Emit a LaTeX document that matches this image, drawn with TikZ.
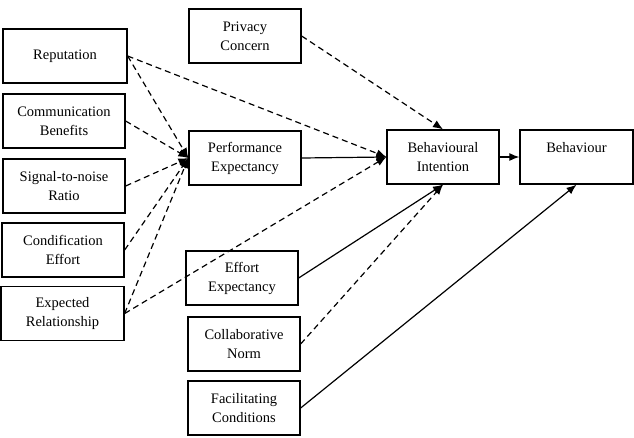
\documentclass[tikz,border=0pt]{standalone}
\usepackage{fontspec}
\setmainfont{Liberation Serif}
\usetikzlibrary{arrows.meta}
\begin{document}
\begin{tikzpicture}[x=1pt,y=-1pt,
  box/.style={draw,line width=1.3pt,minimum height=54pt,align=center,inner sep=0pt,font=\fontsize{14.5}{19}\selectfont},
  lbox/.style={box,minimum width=122pt},
  cbox/.style={box,minimum width=112pt},
  link/.style={-{Latex[length=10pt,width=8pt]},line width=1.2pt},
  dlink/.style={link,dash pattern=on 6pt off 4pt}]
\useasboundingbox (0,0) rectangle (634,437);
\node[lbox,minimum width=124pt] (rep) at (65,56) {Reputation};
\node[lbox] (comm) at (64,121) {Communication\\Benefits};
\node[lbox] (sig) at (64,186) {Signal-to-noise\\Ratio};
\node[lbox] (cond) at (63,250) {Condification\\Effort};
\node[lbox,minimum width=123pt] (expr) at (62.5,313.5) {Expected\\Relationship};
\node[cbox] (priv) at (245,36) {Privacy\\Concern};
\node[cbox] (perf) at (245,158) {Performance\\Expectancy};
\node[cbox] (eff) at (242,278) {Effort\\Expectancy};
\node[cbox] (norm) at (244,344) {Collaborative\\Norm};
\node[cbox] (facil) at (244,408) {Facilitating\\Conditions};
\node[cbox] (intent) at (443,157) {Behavioural\\Intention};
\node[cbox,minimum width=113pt] (behav) at (576.5,157) {Behaviour\\~};

\draw[dlink] (rep.east) -- (perf.west);
\draw[dlink] (comm.east) -- (perf.west);
\draw[dlink] (sig.east) -- (perf.west);
\draw[dlink] (cond.east) -- (perf.west);
\draw[dlink] (expr.east) -- (perf.west);
\draw[dlink] (rep.east) -- (intent.west);
\draw[dlink] (expr.east) -- (intent.west);
\draw[dlink] (priv.east) -- (intent.north);
\draw[link] (perf.east) -- (intent.west);
\draw[link] (intent.east) -- (behav.west);
\draw[link] (eff.east) -- (intent.south);
\draw[dlink] (norm.east) -- (intent.south);
\draw[link] (facil.east) -- (behav.south);
\end{tikzpicture}
\end{document}
